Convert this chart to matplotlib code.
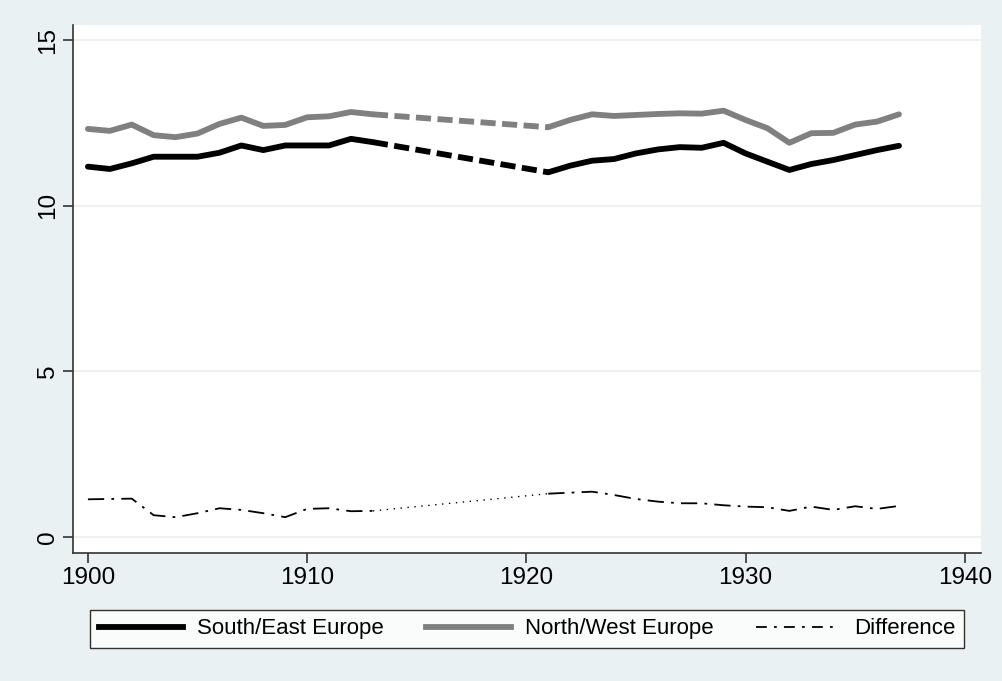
#!/usr/bin/env python3

from matplotlib import pyplot as pl
from matplotlib.lines import Line2D

pl.rcParams['font.family'] = ['Liberation Sans', 'DejaVu Sans']

# years with data (gap 1914-1920 bridged with a dashed / dotted segment)
years_pre = [1900, 1901, 1902, 1903, 1904, 1905, 1906, 1907, 1908, 1909,
             1910, 1911, 1912, 1913]
years_post = [1921, 1922, 1923, 1924, 1925, 1926, 1927, 1928, 1929, 1930,
              1931, 1932, 1933, 1934, 1935, 1936, 1937]

south_pre = [11.18, 11.11, 11.28, 11.48, 11.48, 11.48, 11.60, 11.82, 11.68,
             11.82, 11.82, 11.82, 12.02, 11.92]
south_post = [11.01, 11.21, 11.36, 11.41, 11.58, 11.70, 11.77, 11.75, 11.90,
              11.58, 11.33, 11.08, 11.26, 11.38, 11.53, 11.68, 11.81]

north_pre = [12.32, 12.26, 12.45, 12.13, 12.07, 12.18, 12.47, 12.66, 12.41,
             12.44, 12.67, 12.70, 12.83, 12.76]
north_post = [12.37, 12.59, 12.76, 12.71, 12.74, 12.77, 12.79, 12.78, 12.87,
              12.59, 12.34, 11.90, 12.19, 12.20, 12.45, 12.54, 12.76]

diff_pre = [1.14, 1.15, 1.16, 0.66, 0.60, 0.72, 0.87, 0.82, 0.72, 0.60,
            0.85, 0.87, 0.78, 0.79]
diff_post = [1.31, 1.34, 1.37, 1.27, 1.15, 1.07, 1.02, 1.02, 0.96, 0.92,
             0.90, 0.79, 0.92, 0.82, 0.93, 0.85, 0.94]

labels = ['South/East Europe', 'North/West Europe', 'Difference']

bg = '#eaf1f3'
grey = '#808080'
dashdot = (0, (9, 4, 1.5, 4))
gapdash = (0, (2.6, 1.1))

fig = pl.figure(figsize=(10.03, 6.81), dpi=100, facecolor=bg)
ax = fig.add_axes([0.0728, 0.188, 0.905, 0.775])
ax.set_facecolor('white')

# gap segments
gap_x = [years_pre[-1], years_post[0]]
ax.plot(gap_x, [south_pre[-1], south_post[0]], color='black', lw=4.2,
        linestyle=gapdash, dash_capstyle='butt')
ax.plot(gap_x, [north_pre[-1], north_post[0]], color=grey, lw=4.2,
        linestyle=gapdash, dash_capstyle='butt')
ax.plot(gap_x, [diff_pre[-1], diff_post[0]], color='black', lw=1.0,
        linestyle=(0, (1, 4)))

for xs, s, n, d in [(years_pre, south_pre, north_pre, diff_pre),
                    (years_post, south_post, north_post, diff_post)]:
    ax.plot(xs, n, color=grey, lw=4.2, solid_capstyle='round',
            solid_joinstyle='round')
    ax.plot(xs, s, color='black', lw=4.2, solid_capstyle='round',
            solid_joinstyle='round')
    ax.plot(xs, d, color='black', lw=1.3, linestyle=dashdot)

ax.set_xlim(1899.32, 1940.73)
ax.set_ylim(-0.48, 15.45)
ax.set_xticks([1900, 1910, 1920, 1930, 1940])
ax.set_yticks([0, 5, 10, 15])
ax.grid(axis='y', color=bg, lw=1.3)
ax.set_axisbelow(True)

for side in ['top', 'right']:
    ax.spines[side].set_visible(False)
for side in ['left', 'bottom']:
    ax.spines[side].set_color('#333333')
    ax.spines[side].set_linewidth(1.2)

ax.tick_params(axis='both', direction='out', length=7, width=1.2,
               color='#333333', labelsize=17.5)
ax.tick_params(axis='x', pad=3)
ax.tick_params(axis='y', pad=3)
for lab in ax.get_yticklabels():
    lab.set_rotation(90)
    lab.set_va('center')

handles = [Line2D([], [], color='black', lw=4.2),
           Line2D([], [], color=grey, lw=4.2),
           Line2D([], [], color='black', lw=1.3, linestyle=(0, (6, 4, 1.5, 4)))]
leg = fig.legend(handles, labels, loc='center', ncol=3,
                 bbox_to_anchor=(0.5255, 0.0765), fontsize=16,
                 frameon=True, fancybox=False, edgecolor='black',
                 handlelength=3.8, columnspacing=1.9, handletextpad=0.63,
                 borderpad=0.4)
leg.get_frame().set_linewidth(1.0)

fig.savefig('out.png', dpi=100, facecolor=bg)
